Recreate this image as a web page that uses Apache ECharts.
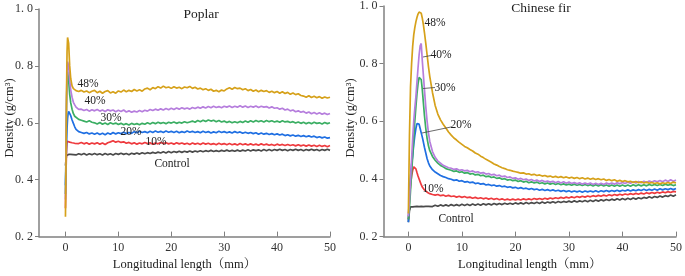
<!DOCTYPE html>
<html><head><meta charset="utf-8">
<script src="https://cdn.jsdelivr.net/npm/echarts@6/dist/echarts.min.js"></script>
<style>html,body{margin:0;padding:0;background:#fff}#c{width:685px;height:276px}</style>
</head><body><div id="c"></div>
<script>
// ---------- DATA ----------
const X_TICKS = [0, 10, 20, 30, 40, 50];
const Y_TICKS = [0.2, 0.4, 0.6, 0.8, 1.0];
const SERIES_NAMES = ['48%', '40%', '30%', '20%', '10%', 'Control'];
const PANEL_TITLES = ['Poplar', 'Chinese fir'];

const X_TAIL = [5.5,6,6.5,7,7.5,8,8.5,9,9.5,10,
10.5,11,11.5,12,12.5,13,13.5,14,14.5,15,
15.5,16,16.5,17,17.5,18,18.5,19,19.5,20,
20.5,21,21.5,22,22.5,23,23.5,24,24.5,25,
25.5,26,26.5,27,27.5,28,28.5,29,29.5,30,
30.5,31,31.5,32,32.5,33,33.5,34,34.5,35,
35.5,36,36.5,37,37.5,38,38.5,39,39.5,40,
40.5,41,41.5,42,42.5,43,43.5,44,44.5,45,
45.5,46,46.5,47,47.5,48,48.5,49,49.5,50];

// Poplar (left)
const poplarX = [0,0.1,0.2,0.3,0.4,0.5,0.6,0.8,1,1.25,1.5,1.75,2,2.5,3,3.5,4,4.5,5].concat(X_TAIL);
const poplar48 = [.27,.45,.7,.85,.9,.905,.88,.8,.755,.73,.72,.716,.713,.71,.714,.708,.712,.706,.711,
.714,.706,.711,.704,.71,.713,.705,.709,.704,.712,
.708,.715,.709,.714,.71,.717,.712,.716,.711,.719,
.722,.716,.724,.72,.727,.722,.729,.723,.726,.721,
.727,.722,.725,.72,.726,.723,.728,.721,.725,.719,
.722,.716,.72,.714,.718,.711,.714,.709,.715,.712,
.719,.723,.718,.724,.72,.722,.716,.72,.713,.717,
.711,.715,.709,.714,.71,.713,.707,.711,.706,.71,
.704,.709,.703,.707,.7,.705,.699,.702,.696,.694,
.69,.695,.689,.693,.688,.692,.686,.691,.687,.69];
const poplar40 = [.33,.5,.68,.78,.815,.82,.8,.75,.715,.69,.672,.663,.655,.647,.648,.643,.647,.641,.646,
.642,.647,.641,.645,.64,.646,.642,.645,.639,.644,
.64,.645,.638,.642,.637,.641,.638,.643,.639,.644,
.641,.647,.643,.648,.644,.649,.645,.65,.646,.651,
.647,.652,.648,.653,.649,.652,.648,.654,.65,.655,
.651,.656,.652,.657,.653,.658,.654,.657,.653,.658,
.655,.659,.654,.658,.655,.66,.655,.659,.654,.658,
.655,.659,.654,.658,.655,.657,.652,.656,.651,.653,
.648,.651,.645,.648,.642,.645,.639,.642,.637,.64,
.634,.638,.632,.636,.631,.635,.63,.634,.629,.633];
const poplar30 = [.35,.5,.66,.75,.78,.775,.75,.7,.67,.648,.632,.623,.617,.612,.609,.606,.603,.607,.602,
.6,.596,.601,.595,.599,.594,.6,.596,.599,.594,
.598,.593,.597,.592,.598,.594,.597,.593,.598,.595,
.6,.596,.601,.597,.602,.598,.601,.597,.602,.599,
.603,.598,.602,.599,.604,.6,.603,.606,.602,.608,
.604,.609,.605,.61,.606,.609,.604,.608,.603,.606,
.601,.605,.6,.604,.6,.605,.601,.606,.602,.607,
.603,.608,.604,.607,.603,.608,.604,.607,.603,.606,
.602,.607,.603,.605,.601,.604,.599,.603,.598,.602,
.597,.601,.597,.602,.598,.6,.596,.601,.597,.6];
const poplar20 = [.38,.45,.52,.58,.615,.632,.64,.638,.625,.61,.598,.586,.577,.569,.566,.563,.566,.561,.564,
.56,.564,.559,.563,.558,.564,.56,.566,.561,.565,
.562,.567,.562,.566,.563,.569,.565,.57,.566,.569,
.565,.57,.566,.571,.567,.57,.566,.571,.567,.57,
.566,.57,.565,.569,.566,.571,.567,.57,.566,.569,
.565,.57,.566,.569,.564,.568,.565,.57,.566,.569,
.565,.568,.564,.569,.565,.568,.563,.567,.563,.566,
.562,.565,.56,.564,.56,.563,.559,.562,.558,.561,
.557,.56,.555,.558,.554,.557,.553,.556,.552,.555,
.551,.554,.55,.553,.548,.551,.547,.55,.546,.548];
const poplar10 = [.3,.42,.5,.535,.542,.54,.536,.532,.535,.53,.533,.528,.532,.527,.531,.526,.53,.525,.529,
.526,.53,.525,.529,.524,.53,.533,.537,.532,.535,
.531,.533,.528,.531,.526,.53,.525,.529,.526,.531,
.527,.53,.525,.529,.526,.531,.527,.53,.526,.529,
.525,.53,.526,.529,.525,.528,.524,.529,.525,.528,
.524,.529,.525,.528,.524,.527,.523,.528,.524,.527,
.523,.527,.523,.526,.522,.527,.523,.526,.522,.526,
.522,.525,.521,.526,.522,.525,.521,.524,.52,.525,
.521,.524,.52,.524,.52,.523,.519,.523,.519,.522,
.518,.522,.518,.521,.517,.521,.517,.52,.516,.52];
const poplarCtl = [.45,.47,.485,.49,.488,.492,.489,.493,.489,.492,.488,.491,.487,.491,.488,.492,.487,.491,.488,
.492,.488,.491,.487,.492,.488,.491,.487,.492,.489,
.493,.489,.492,.488,.493,.49,.494,.49,.495,.491,
.495,.492,.496,.493,.497,.494,.498,.494,.499,.495,
.499,.496,.5,.496,.5,.497,.501,.497,.501,.498,
.502,.498,.502,.499,.503,.499,.502,.499,.503,.5,
.504,.5,.503,.5,.504,.5,.504,.501,.505,.501,
.505,.502,.505,.501,.506,.502,.506,.502,.506,.503,
.507,.503,.506,.502,.506,.503,.507,.503,.506,.502,
.506,.503,.507,.503,.506,.502,.506,.503,.507,.503];

// Chinese fir (right)
const firX = [0,0.2,0.4,0.6,0.8,1,1.2,1.4,1.6,1.8,2,2.2,2.4,2.6,2.8,3,3.25,3.5,3.75,4,4.5,5].concat(X_TAIL);
const fir48 = [.28,.55,.72,.8,.86,.9,.925,.945,.96,.972,.979,.982,.975,.958,.935,.908,.87,.83,.79,.755,.7,.655,
.625,.605,.59,.577,.563,.552,.542,.535,.527,.52,
.513,.508,.502,.497,.49,.486,.479,.474,.468,.463,
.458,.452,.448,.443,.439,.436,.432,.43,.427,.425,
.423,.42,.421,.417,.418,.414,.416,.412,.414,.41,
.412,.408,.41,.406,.409,.405,.408,.404,.407,.403,
.406,.402,.405,.401,.404,.4,.403,.399,.402,.398,
.401,.397,.4,.395,.398,.394,.397,.392,.395,.391,
.394,.39,.392,.388,.391,.387,.39,.386,.389,.385,
.388,.384,.387,.383,.387,.384,.388,.384,.389,.386];
const fir40 = [.27,.33,.4,.47,.54,.6,.645,.685,.735,.785,.83,.862,.87,.81,.76,.71,.65,.6,.56,.53,.495,.475,
.462,.455,.447,.443,.439,.437,.433,.435,.43,.432,
.428,.43,.425,.428,.423,.425,.42,.422,.417,.419,
.414,.416,.411,.413,.408,.41,.405,.407,.402,.404,
.399,.402,.397,.4,.395,.398,.393,.396,.391,.395,
.39,.393,.389,.392,.387,.391,.386,.39,.385,.389,
.384,.388,.383,.387,.382,.386,.382,.386,.381,.385,
.381,.385,.381,.386,.382,.386,.382,.387,.383,.388,
.384,.389,.385,.39,.386,.391,.387,.392,.388,.393,
.389,.394,.39,.395,.39,.396,.391,.397,.392,.396];
const fir30 = [.26,.3,.36,.42,.48,.54,.6,.65,.695,.73,.752,.757,.745,.71,.665,.62,.575,.54,.515,.498,.478,.465,
.455,.447,.442,.436,.433,.43,.426,.428,.423,.425,
.42,.422,.417,.419,.414,.416,.411,.413,.408,.41,
.405,.407,.402,.404,.399,.401,.396,.398,.394,.396,
.391,.394,.389,.392,.387,.39,.386,.389,.384,.387,
.383,.386,.382,.385,.381,.384,.38,.383,.379,.382,
.378,.382,.378,.381,.377,.381,.377,.38,.376,.38,
.376,.38,.376,.379,.375,.379,.375,.379,.375,.379,
.375,.379,.375,.38,.376,.38,.376,.38,.376,.381,
.377,.381,.377,.381,.377,.382,.378,.381,.377,.38];
const fir20 = [.25,.36,.41,.45,.48,.52,.55,.575,.592,.598,.59,.575,.56,.545,.528,.51,.49,.47,.456,.445,.432,.424,
.418,.412,.408,.405,.401,.399,.395,.397,.392,.394,
.389,.391,.387,.389,.384,.386,.382,.384,.379,.381,
.377,.379,.375,.377,.373,.375,.371,.373,.369,.371,
.367,.37,.366,.368,.364,.367,.363,.365,.361,.364,
.36,.363,.359,.362,.358,.361,.357,.36,.356,.359,
.355,.358,.355,.358,.354,.358,.355,.358,.355,.359,
.355,.359,.356,.36,.356,.36,.357,.361,.357,.361,
.358,.362,.358,.362,.359,.363,.36,.364,.36,.364,
.361,.365,.361,.366,.362,.366,.363,.367,.363,.367];
const fir10 = [.26,.33,.38,.41,.43,.442,.443,.435,.422,.41,.4,.39,.38,.372,.366,.362,.357,.354,.351,.349,.346,.344,
.346,.342,.344,.34,.343,.339,.341,.337,.34,.336,
.339,.335,.337,.333,.336,.332,.335,.331,.334,.33,
.333,.329,.332,.328,.331,.327,.33,.327,.33,.327,
.33,.327,.331,.328,.331,.328,.332,.329,.332,.329,
.333,.33,.334,.331,.335,.332,.336,.333,.337,.334,
.338,.335,.339,.336,.34,.337,.341,.338,.342,.339,
.343,.34,.344,.341,.345,.342,.346,.343,.347,.344,
.348,.345,.349,.346,.35,.347,.351,.348,.352,.349,
.353,.35,.354,.351,.355,.352,.356,.353,.357,.355];
const firCtl = [.25,.29,.303,.307,.303,.308,.304,.309,.305,.308,.304,.309,.305,.308,.304,.309,.305,.31,.305,.309,.304,.309,
.305,.31,.306,.31,.306,.311,.307,.311,.307,.312,
.308,.312,.308,.313,.309,.313,.309,.314,.31,.314,
.31,.315,.311,.315,.311,.316,.312,.316,.312,.317,
.313,.317,.313,.318,.314,.318,.315,.319,.315,.32,
.316,.32,.317,.321,.317,.322,.318,.322,.319,.323,
.319,.324,.32,.324,.321,.325,.321,.326,.322,.327,
.323,.328,.324,.329,.325,.33,.326,.331,.327,.332,
.328,.333,.329,.334,.33,.335,.331,.336,.333,.338,
.334,.339,.336,.341,.337,.342,.339,.344,.34,.345];

// ---------- CHART ----------
const COLORS = ['#D6A11A', '#B67EDD', '#3BAE63', '#1F6FE2', '#EE3A3E', '#4A4A4A'];
const SERIF = '"Liberation Serif","Times New Roman","Noto Serif CJK SC","Noto Sans CJK SC",serif';
const AXIS_COLOR = '#808080';

function pairs(xs, ys) { return xs.map((x, i) => [x, ys[i]]); }

const panels = [
  { x: poplarX, ys: [poplarCtl, poplar10, poplar20, poplar30, poplar40, poplar48], xmin: -5,
    grid: { left: 39, top: 9, width: 291, height: 234 } },
  { x: firX, ys: [firCtl, fir10, fir20, fir30, fir40, fir48], xmin: -4.65,
    grid: { left: 383.5, top: 4.7, width: 295, height: 238.6 } }
];
const orderColors = [COLORS[5], COLORS[4], COLORS[3], COLORS[2], COLORS[1], COLORS[0]];
const orderNames = [SERIES_NAMES[5], SERIES_NAMES[4], SERIES_NAMES[3], SERIES_NAMES[2], SERIES_NAMES[1], SERIES_NAMES[0]];

const grid = [], xAxis = [], yAxis = [], series = [];
panels.forEach((p, gi) => {
  grid.push(Object.assign({ containLabel: false }, p.grid));
  xAxis.push({
    type: 'value', gridIndex: gi, min: p.xmin, max: 50,
    name: 'Longitudinal length（mm）', nameLocation: 'middle', nameGap: 16,
    nameTextStyle: { fontFamily: SERIF, fontSize: 12.5, color: '#222' },
    axisLine: { show: true, onZero: false, lineStyle: { color: AXIS_COLOR, width: 1.5 } },
    axisTick: { show: true, inside: true, length: 5, customValues: X_TICKS, lineStyle: { color: AXIS_COLOR, width: 1 } },
    axisLabel: { show: true, customValues: X_TICKS, fontFamily: SERIF, fontSize: 12, color: '#333', margin: 5 },
    splitLine: { show: false }
  });
  yAxis.push({
    type: 'value', gridIndex: gi, min: Y_TICKS[0], max: Y_TICKS[Y_TICKS.length - 1], interval: 0.2,
    axisLine: { show: true, onZero: false, lineStyle: { color: AXIS_COLOR, width: 1.5 } },
    axisTick: { show: true, inside: false, length: 4, lineStyle: { color: AXIS_COLOR, width: 1 } },
    axisLabel: { show: true, fontFamily: SERIF, fontSize: 12, color: '#333', margin: 6,
      formatter: v => v.toFixed(1).replace('.', '. ') },
    splitLine: { show: false }
  });
  p.ys.forEach((ys, si) => {
    series.push({
      type: 'line', name: orderNames[si], xAxisIndex: gi, yAxisIndex: gi,
      data: pairs(p.x, ys), showSymbol: false, symbol: 'none', smooth: false,
      lineStyle: { color: orderColors[si], width: 1.7 }, itemStyle: { color: orderColors[si] },
      silent: true, animation: false, z: 2 + si
    });
  });
});

function txt(x, y, text, size, extra) {
  return Object.assign({
    type: 'text', x: x, y: y, silent: true, z: 100,
    style: { text: text, fill: '#222', font: size + 'px ' + SERIF,
      align: 'center', verticalAlign: 'middle', textAlign: 'center', textVerticalAlign: 'middle' }
  }, extra || {});
}
function seg(x1, y1, x2, y2) {
  return { type: 'line', silent: true, z: 100, shape: { x1: x1, y1: y1, x2: x2, y2: y2 },
    style: { stroke: '#444', lineWidth: 0.8 } };
}

const graphic = [
  txt(201, 14, PANEL_TITLES[0], 13.5),
  txt(541, 8.5, PANEL_TITLES[1], 13.5),
  txt(10, 118, 'Density (g/cm³)', 12.5, { rotation: Math.PI / 2 }),
  txt(351, 118, 'Density (g/cm³)', 12.5, { rotation: Math.PI / 2 }),
  txt(88, 84, SERIES_NAMES[0], 11.5),
  txt(95, 101, SERIES_NAMES[1], 11.5),
  txt(111, 118, SERIES_NAMES[2], 11.5),
  txt(131, 132, SERIES_NAMES[3], 11.5),
  txt(156, 142, SERIES_NAMES[4], 11.5),
  txt(172, 164, SERIES_NAMES[5], 11.5),
  txt(435, 23, SERIES_NAMES[0], 11.5),
  txt(441, 55, SERIES_NAMES[1], 11.5),
  txt(445, 88, SERIES_NAMES[2], 11.5),
  txt(461, 125, SERIES_NAMES[3], 11.5),
  txt(433, 189, SERIES_NAMES[4], 11.5),
  txt(456, 219, SERIES_NAMES[5], 11.5),
  seg(423, 57, 431, 55.5),
  seg(423, 88.5, 435, 87.5),
  seg(422, 133, 451, 127)
];

const chart = echarts.init(document.getElementById('c'), null, { renderer: 'canvas' });
chart.setOption({
  animation: false,
  backgroundColor: '#fff',
  grid: grid, xAxis: xAxis, yAxis: yAxis, series: series, graphic: graphic
});
</script>
</body></html>
